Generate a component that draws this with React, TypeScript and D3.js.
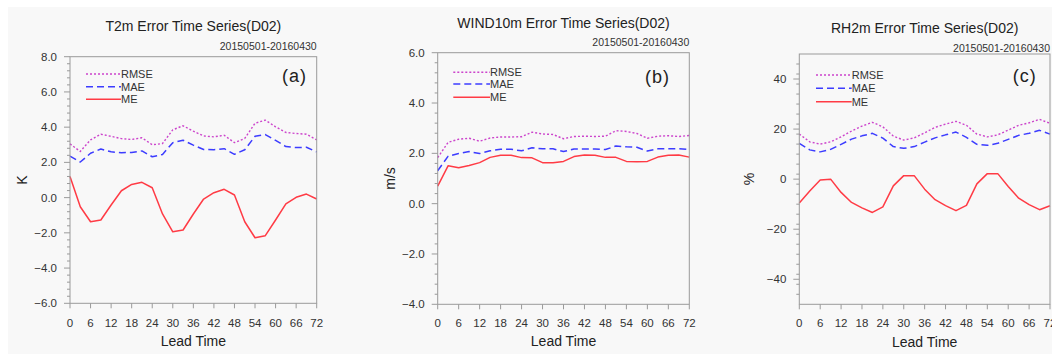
import React from "react";
import * as d3 from "d3";

// ---------- data ----------
const leadTimes = [0, 3, 6, 9, 12, 15, 18, 21, 24, 27, 30, 33, 36, 39, 42, 45, 48, 51, 54, 57, 60, 63, 66, 69, 72];
const xTickValues = [0, 6, 12, 18, 24, 30, 36, 42, 48, 54, 60, 66, 72];
const seriesNames = ["RMSE", "MAE", "ME"];
const panelTitles = ["T2m Error Time Series(D02)", "WIND10m Error Time Series(D02)", "RH2m Error Time Series(D02)"];
const panelTags = ["(a)", "(b)", "(c)"];
const yAxisLabels = ["K", "m/s", "%"];
const periodLabel = "20150501-20160430";
const xAxisLabel = "Lead Time";

const t2mRMSE = [3.05, 2.62, 3.28, 3.6, 3.48, 3.35, 3.3, 3.4, 3.0, 3.07, 3.85, 4.08, 3.77, 3.5, 3.45, 3.54, 3.12, 3.36, 4.22, 4.4, 4.02, 3.7, 3.64, 3.6, 3.28];
const t2mMAE = [2.36, 2.02, 2.52, 2.76, 2.6, 2.55, 2.56, 2.65, 2.32, 2.45, 3.12, 3.26, 2.98, 2.73, 2.72, 2.78, 2.46, 2.72, 3.48, 3.58, 3.25, 2.9, 2.84, 2.86, 2.6];
const t2mME = [1.2, -0.52, -1.37, -1.27, -0.42, 0.39, 0.75, 0.87, 0.56, -0.93, -1.94, -1.84, -0.93, -0.08, 0.28, 0.47, 0.15, -1.37, -2.28, -2.16, -1.27, -0.36, 0.02, 0.2, -0.08];

const windRMSE = [1.83, 2.44, 2.56, 2.6, 2.48, 2.61, 2.65, 2.65, 2.66, 2.84, 2.77, 2.75, 2.58, 2.67, 2.68, 2.67, 2.68, 2.9, 2.87, 2.79, 2.6, 2.68, 2.7, 2.67, 2.71];
const windMAE = [1.31, 1.89, 1.99, 2.07, 1.99, 2.1, 2.16, 2.16, 2.1, 2.22, 2.18, 2.18, 2.07, 2.17, 2.17, 2.17, 2.15, 2.29, 2.26, 2.24, 2.09, 2.18, 2.18, 2.18, 2.15];
const windME = [0.7, 1.51, 1.43, 1.52, 1.63, 1.84, 1.92, 1.92, 1.83, 1.82, 1.63, 1.63, 1.68, 1.87, 1.93, 1.92, 1.84, 1.84, 1.68, 1.67, 1.68, 1.85, 1.92, 1.93, 1.85];

const rhRMSE = [18.0, 14.9, 14.0, 14.9, 16.9, 19.2, 21.2, 22.7, 20.9, 17.2, 15.6, 16.5, 18.5, 20.7, 22.0, 23.1, 21.5, 18.0, 16.9, 17.7, 19.6, 21.5, 22.5, 23.9, 22.3];
const rhMAE = [14.3, 11.7, 10.9, 11.9, 13.9, 16.0, 17.3, 18.3, 16.4, 13.0, 12.3, 13.0, 14.8, 16.5, 17.7, 18.8, 16.7, 13.9, 13.5, 14.3, 15.9, 17.5, 18.3, 19.5, 18.0];
const rhME = [-9.5, -4.7, -0.3, 0.0, -5.3, -9.3, -11.5, -13.3, -11.1, -2.7, 1.4, 1.4, -4.0, -8.2, -10.6, -12.6, -10.5, -1.9, 2.2, 2.2, -2.9, -7.6, -10.2, -12.2, -10.6];

const yDomains: [number, number][] = [[-6, 8], [-4, 6], [-50, 50]];
const yMajorTicks = [
  [-6, -4, -2, 0, 2, 4, 6, 8],
  [-4, -2, 0, 2, 4, 6],
  [-40, -20, 0, 20, 40],
];
const yMinorSteps = [0.4, 0.4, 4];
const yTickFormats = [".1f", ".1f", "d"];

// ---------- layout / style ----------
const FONT = "'Liberation Sans', Arial, Helvetica, sans-serif";
const seriesStyles = [
  { color: "#cc44cc", dash: "2,2", width: 1.4 },
  { color: "#3c3cff", dash: "7,4", width: 1.5 },
  { color: "#ff3b45", dash: "", width: 1.5 },
];

const layouts = [
  { left: 70, right: 316.7, top: 56.7, bottom: 303.3, titleY: 31, subY: 50, yLabX: 26.7, tagX: 307, tagY: 82, legX1: 86, legX2: 121, legY: [74, 86.7, 99.3], xLabY: 326.7, leadY: 346 },
  { left: 437.7, right: 689.3, top: 52.7, bottom: 304.3, titleY: 28.3, subY: 46, yLabX: 394.5, tagX: 670, tagY: 83, legX1: 453.3, legX2: 490, legY: [72.3, 84, 97.3], xLabY: 326.7, leadY: 346 },
  { left: 799.3, right: 1050, top: 54, bottom: 304.3, titleY: 33, subY: 51.7, yLabX: 753.5, tagX: 1036.7, tagY: 82, legX1: 816, legX2: 851.7, legY: [75, 88.3, 101.7], xLabY: 327.3, leadY: 347 },
];

const panelData = [
  [t2mRMSE, t2mMAE, t2mME],
  [windRMSE, windMAE, windME],
  [rhRMSE, rhMAE, rhME],
];

function Panel({ idx }: { idx: number }) {
  const L = layouts[idx];
  const x = d3.scaleLinear().domain([0, 72]).range([L.left, L.right]);
  const y = d3.scaleLinear().domain(yDomains[idx]).range([L.bottom, L.top]);
  const fmt = d3.format(yTickFormats[idx]);
  const [y0, y1] = yDomains[idx];
  const step = yMinorSteps[idx];
  const minors: number[] = [];
  const n = Math.round((y1 - y0) / step);
  for (let i = 0; i <= n; i++) {
    const v = +(y0 + i * step).toFixed(4);
    if (v <= y0 + 1e-6 || v >= y1 - 1e-6) continue;
    if (yMajorTicks[idx].some((m) => Math.abs(m - v) < 1e-6)) continue;
    minors.push(v);
  }
  const line = d3
    .line<number>()
    .x((_, i) => x(leadTimes[i]))
    .y((d) => y(d));
  const cx = (L.left + L.right) / 2;
  const cy = (L.top + L.bottom) / 2;
  return (
    <g>
      <text x={cx} y={L.titleY} textAnchor="middle" fontSize={14} fill="#222" fontFamily={FONT}>
        {panelTitles[idx]}
      </text>
      <text x={L.right} y={L.subY} textAnchor="end" fontSize={10.5} fill="#333" fontFamily={FONT}>
        {periodLabel}
      </text>
      {/* series */}
      {panelData[idx].map((vals, s) => (
        <path
          key={s}
          d={line(vals) || ""}
          fill="none"
          stroke={seriesStyles[s].color}
          strokeWidth={seriesStyles[s].width}
          strokeDasharray={seriesStyles[s].dash || undefined}
          strokeLinejoin="round"
        />
      ))}
      {/* frame */}
      <rect x={L.left} y={L.top} width={L.right - L.left} height={L.bottom - L.top} fill="none" stroke="#9a9a9a" strokeWidth={1} />
      {/* y ticks */}
      {yMajorTicks[idx].map((v) => (
        <g key={"ym" + v}>
          <line x1={L.left - 6} x2={L.left} y1={y(v)} y2={y(v)} stroke="#9a9a9a" strokeWidth={1} />
          <text x={L.left - 13} y={y(v) + 4} textAnchor="end" fontSize={11.5} fill="#333" fontFamily={FONT}>
            {fmt(v)}
          </text>
        </g>
      ))}
      {minors.map((v) => (
        <line key={"yn" + v} x1={L.left - 3} x2={L.left} y1={y(v)} y2={y(v)} stroke="#9a9a9a" strokeWidth={1} />
      ))}
      {/* x ticks */}
      {xTickValues.map((v) => (
        <g key={"x" + v}>
          <line x1={x(v)} x2={x(v)} y1={L.bottom} y2={L.bottom + 5} stroke="#9a9a9a" strokeWidth={1} />
          <text x={x(v)} y={L.xLabY} textAnchor="middle" fontSize={11.5} fill="#333" fontFamily={FONT}>
            {v}
          </text>
        </g>
      ))}
      <text x={cx} y={L.leadY} textAnchor="middle" fontSize={14} fill="#222" fontFamily={FONT}>
        {xAxisLabel}
      </text>
      <text
        transform={`translate(${L.yLabX},${cy}) rotate(-90)`}
        textAnchor="middle"
        fontSize={14}
        fill="#222"
        fontFamily={FONT}
      >
        {yAxisLabels[idx]}
      </text>
      {/* legend */}
      {seriesNames.map((name, s) => (
        <g key={name}>
          <line
            x1={L.legX1}
            x2={L.legX2}
            y1={L.legY[s]}
            y2={L.legY[s]}
            stroke={seriesStyles[s].color}
            strokeWidth={seriesStyles[s].width}
            strokeDasharray={seriesStyles[s].dash || undefined}
          />
          <text x={L.legX2} y={L.legY[s] + 4} fontSize={11} fill="#333" fontFamily={FONT}>
            {name}
          </text>
        </g>
      ))}
      <text x={L.tagX} y={L.tagY} textAnchor="end" fontSize={18} fill="#222" fontFamily={FONT} letterSpacing={1}>
        {panelTags[idx]}
      </text>
    </g>
  );
}

export default function App() {
  return (
    <svg
      width={1052}
      height={354}
      style={{ position: "absolute", left: 0, top: 0, display: "block" }}
    >
      <rect x={0} y={0} width={1052} height={354} fill="#ffffff" />
      <rect x={8} y={7} width={1044} height={347} fill="#f8f8f8" />
      {[0, 1, 2].map((i) => (
        <Panel key={i} idx={i} />
      ))}
    </svg>
  );
}
